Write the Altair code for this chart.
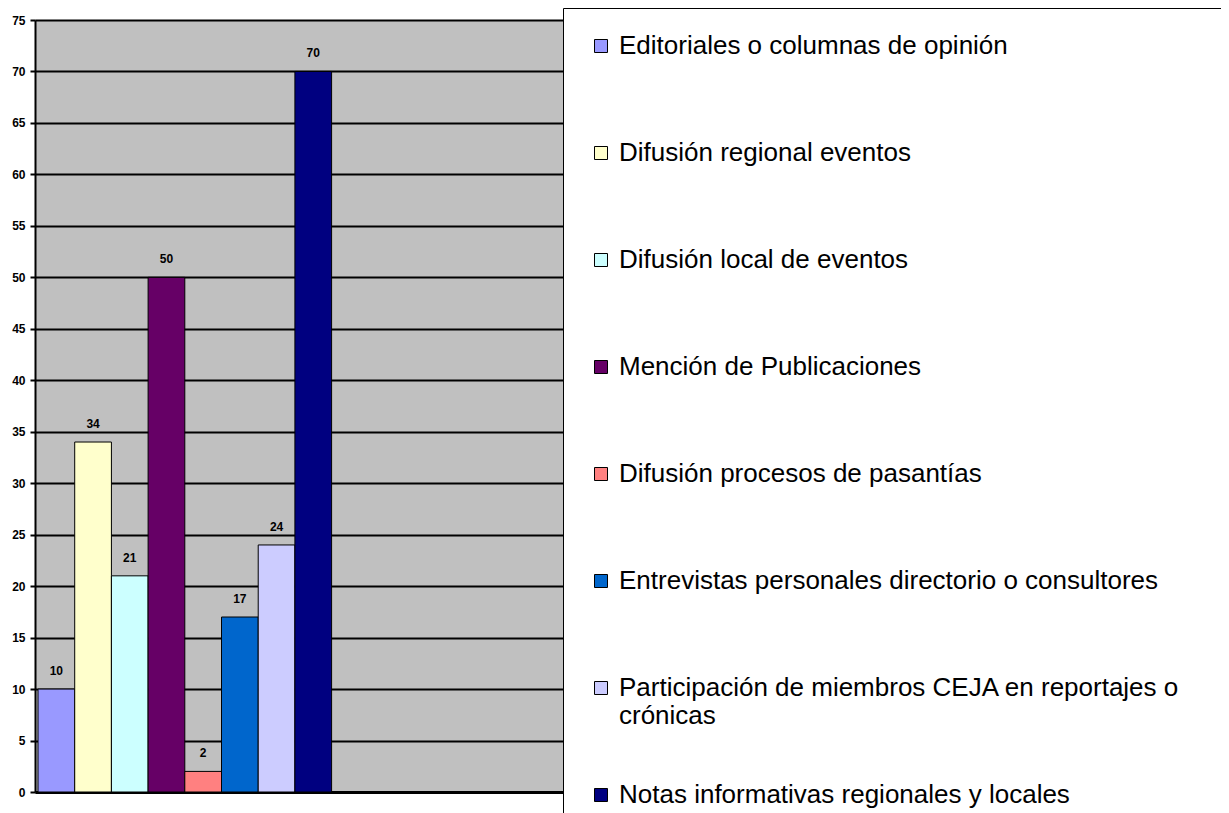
import altair as alt
import pandas as pd

categories = [
    "Editoriales o columnas de opinión",
    "Difusión regional eventos",
    "Difusión local de eventos",
    "Mención de Publicaciones",
    "Difusión procesos de pasantías",
    "Entrevistas personales directorio o consultores",
    "Participación de miembros CEJA en reportajes o crónicas",
    "Notas informativas regionales y locales",
]
values = [10, 34, 21, 50, 2, 17, 24, 70]
colors = ["#9999FF", "#FFFFCC", "#CCFFFF", "#660066", "#FF8080", "#0066CC", "#CCCCFF", "#000080"]
y_ticks = list(range(0, 80, 5))

idx = list(range(len(categories)))
df = pd.DataFrame({
    "categoria": categories,
    "valor": values,
    "x0": idx,
    "x1": [i + 1 for i in idx],
    "xm": [i + 0.5 for i in idx],
})

FONT = "Liberation Sans"

x_scale = alt.Scale(domain=[-0.082, 14.496], nice=False, zero=False)
y_scale = alt.Scale(domain=[0, 75], nice=False)

x_axis = alt.Axis(labels=False, ticks=False, title=None, domainColor="black", domainWidth=3, grid=False)

y_axis = alt.Axis(
    values=y_ticks,
    title=None,
    grid=True,
    gridColor="black",
    gridWidth=2,
    domainColor="black",
    domainWidth=2,
    tickColor="black",
    tickSize=5,
    tickWidth=2,
    labelPadding=5,
    labelFont=FONT,
    labelFontSize=12,
    labelFontWeight="bold",
    labelColor="black",
)

legend = alt.Legend(
    title=" ",
    titleOrient="right",
    titlePadding=60,
    orient="none",
    legendX=528,
    legendY=-12,
    fillColor="white",
    strokeColor="black",
    padding=25,
    rowPadding=53,
    gridAlign="all",
    symbolType="square",
    symbolSize=169,
    symbolStrokeColor="black",
    symbolStrokeWidth=1,
    symbolOpacity=1,
    labelFont=FONT,
    labelFontSize=26,
    labelColor="black",
    labelLimit=1000,
    labelOffset=5,
    labelExpr="datum.label == 'Participación de miembros CEJA en reportajes o crónicas' ? ['Participación de miembros CEJA en reportajes o', 'crónicas'] : datum.label",
)

bars = alt.Chart(df).mark_rect(stroke="black", strokeWidth=1, opacity=1).encode(
    x=alt.X("x0:Q", scale=x_scale, axis=x_axis),
    x2="x1:Q",
    y=alt.Y("valor:Q", scale=y_scale, axis=y_axis),
    y2=alt.datum(0),
    color=alt.Color(
        "categoria:N",
        sort=categories,
        scale=alt.Scale(domain=categories, range=colors),
        legend=legend,
    ),
)

text = alt.Chart(df).mark_text(
    font=FONT, fontSize=12, fontWeight="bold", color="black", baseline="alphabetic", dy=-14
).encode(
    x=alt.X("xm:Q", scale=x_scale),
    y=alt.Y("valor:Q", scale=y_scale),
    text=alt.Text("valor:Q"),
)

chart = (
    alt.layer(bars, text)
    .properties(
        width=535,
        height=772,
        background="white",
        autosize=alt.AutoSizeParams(type="none"),
        padding={"left": 27, "top": 12, "right": 651, "bottom": 22},
    )
    .configure_view(fill="#C0C0C0", stroke=None)
)

chart.save("out.html", embed_options={"renderer": "svg", "actions": False})
